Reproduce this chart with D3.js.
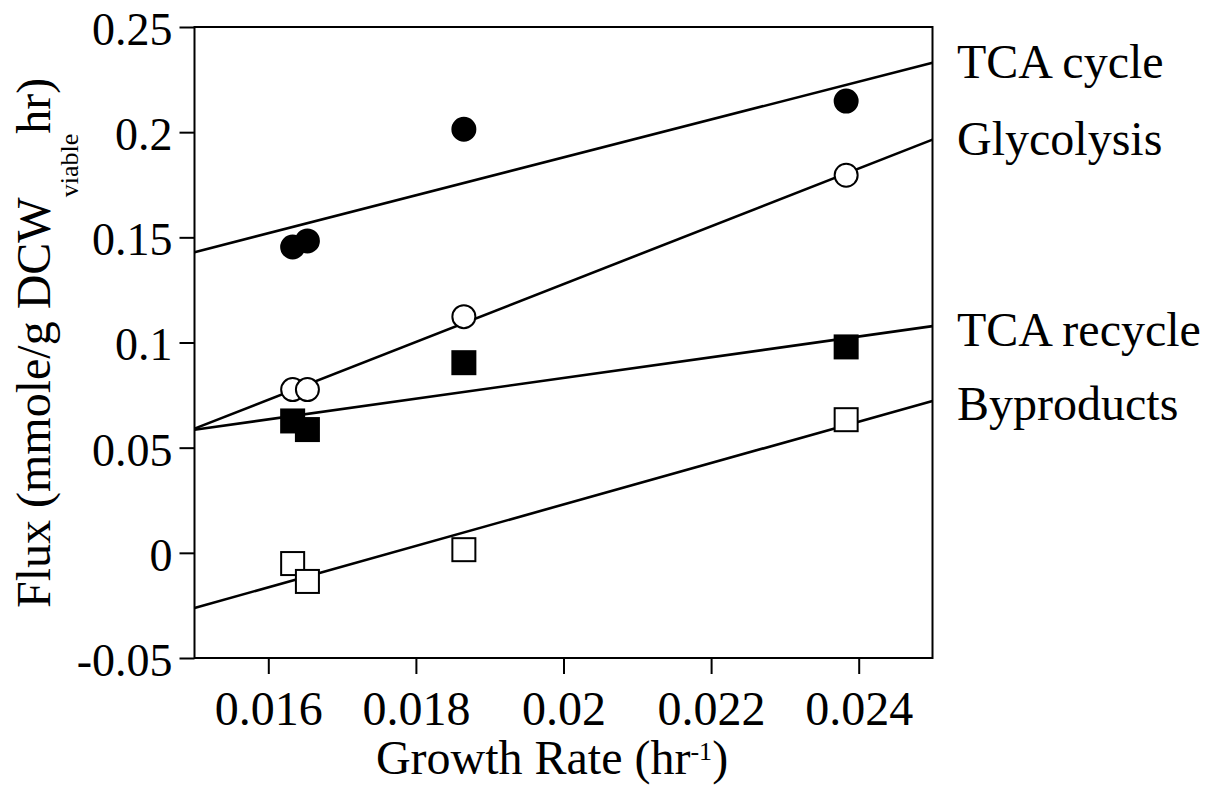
<!DOCTYPE html>
<html>
<head>
<meta charset="utf-8">
<script src="https://cdn.jsdelivr.net/npm/d3@7"></script>
<style>
  html, body { margin: 0; padding: 0; background: #fff; }
  svg { display: block; }
  text { font-family: "Liberation Serif", "Times New Roman", Times, serif; fill: #000; }
</style>
</head>
<body>
<svg id="chart" width="1208" height="795"></svg>
<script>
// Growth rate (hr^-1) for each culture
const growthRate = [0.01633, 0.01653, 0.01865, 0.02383];

// Flux (mmole/g DCW_viable hr) per pathway
const tcaCycle   = [0.1454, 0.1483, 0.2014, 0.2148];
const glycolysis = [0.0776, 0.0776, 0.1123, 0.1795];
const tcaRecycle = [0.0627, 0.0586, 0.0904, 0.0979];
const byproducts = [-0.0051, -0.0136, 0.0015, 0.0633];

const seriesNames = ["TCA cycle", "Glycolysis", "TCA recycle", "Byproducts"];

// Axis ticks
const xTickValues = [0.016, 0.018, 0.020, 0.022, 0.024];
const xTickLabels = ["0.016", "0.018", "0.02", "0.022", "0.024"];
const yTickValues = [0.25, 0.2, 0.15, 0.1, 0.05, 0, -0.05];
const yTickLabels = ["0.25", "0.2", "0.15", "0.1", "0.05", "0", "-0.05"];

const series = [
  { name: seriesNames[0], values: tcaCycle,   shape: "circle", filled: true,  labelDy: 15 },
  { name: seriesNames[1], values: glycolysis, shape: "circle", filled: false, labelDy: 15 },
  { name: seriesNames[2], values: tcaRecycle, shape: "square", filled: true,  labelDy: 20 },
  { name: seriesNames[3], values: byproducts, shape: "square", filled: false, labelDy: 19 }
];

const svg = d3.select("#chart");
const FONT = 48;

const x = d3.scaleLinear().domain([0.015, 0.025]).range([194.5, 932.5]);
const y = d3.scaleLinear().domain([-0.05, 0.25]).range([658, 27]);

// least-squares straight line through a series
function fit(xs, ys) {
  const mx = d3.mean(xs), my = d3.mean(ys);
  let sxy = 0, sxx = 0;
  xs.forEach((xv, i) => { sxy += (xv - mx) * (ys[i] - my); sxx += (xv - mx) ** 2; });
  const slope = sxy / sxx;
  return v => my + slope * (v - mx);
}

// minor ticks
const xMinor = d3.range(0.015, 0.02501, 0.0005).filter(v => !xTickValues.some(t => Math.abs(t - v) < 1e-9));
const yMinor = d3.range(-0.05, 0.2501, 0.01).filter(v => !yTickValues.some(t => Math.abs(t - v) < 1e-9));

const xAxisG = svg.append("g").attr("transform", `translate(0,${y(-0.05)})`);
xAxisG.call(d3.axisBottom(x).tickValues(xMinor).tickSize(9).tickFormat(""));
xAxisG.call(d3.axisBottom(x).tickValues(xTickValues).tickSize(16).tickPadding(17)
  .tickFormat((d, i) => xTickLabels[i]));

const yAxisG = svg.append("g").attr("transform", `translate(${x(0.015)},0)`);
yAxisG.call(d3.axisLeft(y).tickValues(yMinor).tickSize(8).tickFormat(""));
yAxisG.call(d3.axisLeft(y).tickValues(yTickValues).tickSize(15).tickPadding(7)
  .tickFormat((d, i) => yTickLabels[i]));

svg.selectAll(".domain").remove();
svg.selectAll(".tick line").attr("stroke", "#000").attr("stroke-width", 2);
svg.selectAll(".tick text").attr("font-size", FONT)
  .style("font-family", "'Liberation Serif', 'Times New Roman', serif");
yAxisG.selectAll(".tick text").attr("font-size", 46).attr("dy", "0.38em");

// plot frame
svg.append("rect")
  .attr("x", x(0.015)).attr("y", y(0.25))
  .attr("width", x(0.025) - x(0.015)).attr("height", y(-0.05) - y(0.25))
  .attr("fill", "none").attr("stroke", "#000").attr("stroke-width", 2);

// fitted lines
const lineG = svg.append("g");
series.forEach(s => {
  const f = fit(growthRate, s.values);
  s.fit = f;
  lineG.append("line")
    .attr("x1", x(0.015)).attr("y1", y(f(0.015)))
    .attr("x2", x(0.025)).attr("y2", y(f(0.025)))
    .attr("stroke", "#000").attr("stroke-width", 2.6);
});

// markers
const R = 11.5, S = 23;
const markG = svg.append("g");
series.forEach(s => {
  s.values.forEach((v, i) => {
    const cx = x(growthRate[i]), cy = y(v);
    const fill = s.filled ? "#000" : "#fff";
    if (s.shape === "circle") {
      markG.append("circle").attr("cx", cx).attr("cy", cy).attr("r", R)
        .attr("fill", fill).attr("stroke", "#000").attr("stroke-width", 2);
    } else {
      markG.append("rect").attr("x", cx - S / 2).attr("y", cy - S / 2)
        .attr("width", S).attr("height", S)
        .attr("fill", fill).attr("stroke", "#000").attr("stroke-width", 2);
    }
  });
});

// series names at the right end of each line
series.forEach(s => {
  svg.append("text")
    .attr("x", 957).attr("y", y(s.fit(0.025)) + s.labelDy)
    .attr("font-size", FONT)
    .text(s.name);
});

// x axis title
const xt = svg.append("text")
  .attr("x", 552).attr("y", 774)
  .attr("text-anchor", "middle")
  .attr("font-size", FONT);
xt.append("tspan").text("Growth Rate (hr");
xt.append("tspan").attr("font-size", 26).attr("dy", -14).text("-1");
xt.append("tspan").attr("dy", 14).text(")");

// y axis title
const yt = svg.append("text")
  .attr("transform", "translate(50,608) rotate(-90)")
  .attr("text-anchor", "start")
  .attr("font-size", FONT);
yt.append("tspan").text("Flux (mmole/g DCW");
yt.append("tspan").attr("font-size", 26).attr("dy", 28).text("viable");
yt.append("tspan").attr("dy", -28).text("hr)");
</script>
</body>
</html>
